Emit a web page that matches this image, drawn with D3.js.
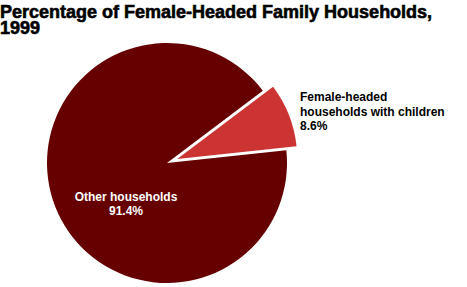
<!DOCTYPE html>
<html>
<head>
<meta charset="utf-8">
<script src="https://cdn.jsdelivr.net/npm/d3@7"></script>
<style>
  body { margin: 0; background: #fff; }
  text { font-family: "Liberation Sans", Arial, sans-serif; font-weight: bold; }
</style>
</head>
<body>
<div id="chart"></div>
<script>
// Percentage of female-headed family households, 1999
var categories = ["Female-headed households with children", "Other households"];
var values = [8.6, 91.4];
var valueLabels = ["8.6%", "91.4%"];
var colours = ["#cc3333", "#660000"];

var w = 467, h = 287;
var cx = 167, cy = 163, r = 120;

var svg = d3.select("#chart")
  .append("svg")
  .attr("width", w)
  .attr("height", h);

// title (two lines, heavy)
svg.append("text")
  .attr("x", 0)
  .attr("y", 18)
  .style("font-size", "18px")
  .style("fill", "#000")
  .style("stroke", "#000")
  .style("stroke-width", "0.6px")
  .text("Percentage of Female-Headed Family Households,");
svg.append("text")
  .attr("x", 0)
  .attr("y", 34)
  .style("font-size", "18px")
  .style("fill", "#000")
  .style("stroke", "#000")
  .style("stroke-width", "0.6px")
  .text("1999");

var start = 53 * Math.PI / 180;
var pie = d3.pie()
  .sort(null)
  .startAngle(start)
  .endAngle(start + 2 * Math.PI);

var arc = d3.arc().innerRadius(0).outerRadius(r);
var arcs = pie(values);

var g = svg.append("g").attr("transform", "translate(" + cx + "," + cy + ")");

g.selectAll("path")
  .data(arcs)
  .enter()
  .append("path")
  .attr("d", arc)
  .attr("fill", function(d, i) { return colours[i]; })
  .attr("transform", function(d, i) {
    // pull the small slice out
    if (i !== 0) { return null; }
    var mid = (d.startAngle + d.endAngle) / 2;
    var off = 11;
    return "translate(" + (Math.sin(mid) * off) + "," + (-Math.cos(mid) * off) + ")";
  });

// labels
var lab1 = svg.append("text")
  .style("font-size", "12px")
  .style("fill", "#000");
lab1.append("tspan").attr("x", 300).attr("y", 101).text("Female-headed");
lab1.append("tspan").attr("x", 300).attr("y", 115.5).text("households with children");
lab1.append("tspan").attr("x", 300).attr("y", 130).text(valueLabels[0]);

var lab2 = svg.append("text")
  .style("font-size", "12px")
  .style("fill", "#fff")
  .attr("text-anchor", "middle");
lab2.append("tspan").attr("x", 126).attr("y", 201).text("Other households");
lab2.append("tspan").attr("x", 126).attr("y", 215).text(valueLabels[1]);
</script>
</body>
</html>
